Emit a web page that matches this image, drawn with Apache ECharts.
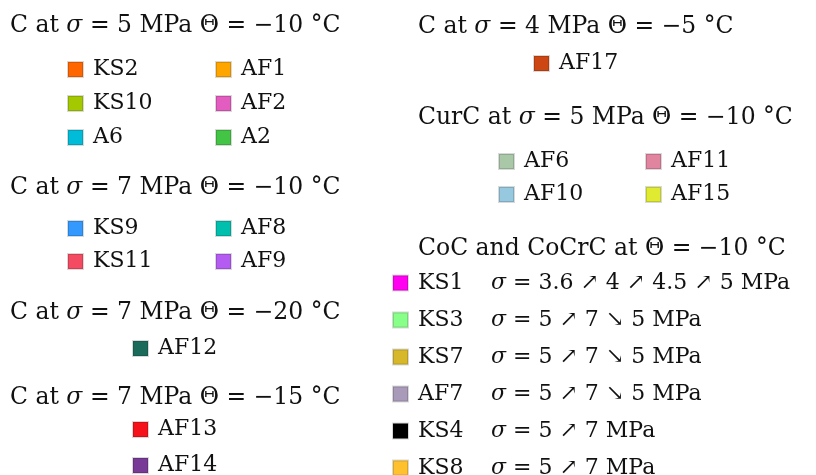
<!DOCTYPE html>
<html><head><meta charset="utf-8">
<script src="https://cdn.jsdelivr.net/npm/echarts@6/dist/echarts.min.js"></script>
<style>html,body{margin:0;padding:0;background:#fff}#c{width:816px;height:475px}</style>
</head><body><div id="c"></div>
<script>
// ---- data ----
const groupTitles = [
  'C at {i|σ} = 5 MPa Θ = −10 °C',
  'C at {i|σ} = 7 MPa Θ = −10 °C',
  'C at {i|σ} = 7 MPa Θ = −20 °C',
  'C at {i|σ} = 7 MPa Θ = −15 °C',
  'C at {i|σ} = 4 MPa Θ = −5 °C',
  'CurC at {i|σ} = 5 MPa Θ = −10 °C',
  'CoC and CoCrC at Θ = −10 °C'
];
const group1Left = ['KS2', 'KS10', 'A6'];
const group1Right = ['AF1', 'AF2', 'A2'];
const group2Left = ['KS9', 'KS11'];
const group2Right = ['AF8', 'AF9'];
const group3 = ['AF12'];
const group4 = ['AF13', 'AF14'];
const group5 = ['AF17'];
const group6Left = ['AF6', 'AF10'];
const group6Right = ['AF11', 'AF15'];
const group7 = ['KS1', 'KS3', 'KS7', 'AF7', 'KS4', 'KS8'];
const group7Paths = [
  ' = 3.6 ↗ 4 ↗ 4.5 ↗ 5 MPa',
  ' = 5 ↗ 7 ↘ 5 MPa',
  ' = 5 ↗ 7 ↘ 5 MPa',
  ' = 5 ↗ 7 ↘ 5 MPa',
  ' = 5 ↗ 7 MPa',
  ' = 5 ↗ 7 MPa'
];
const specimenColors = {
  KS2: '#ff6600', AF1: '#ffa500', KS10: '#a5c900', AF2: '#e35cbf', A6: '#00bcd8', A2: '#44c444',
  KS9: '#3399ff', AF8: '#00bfad', KS11: '#f44a62', AF9: '#b45cf2',
  AF12: '#1b6b5b', AF13: '#f5121a', AF14: '#773a96', AF17: '#cc4713',
  AF6: '#a8c8a8', AF11: '#e184a0', AF10: '#96c8e0', AF15: '#e0ea30',
  KS1: '#ff00f0', KS3: '#88ff88', KS7: '#d6b82a', AF7: '#a89ab8', KS4: '#000000', KS8: '#ffc22e'
};

// ---- layout ----
const FONT = '"DejaVu Serif", serif';
const ITEM_FS = 22, TITLE_FS = 23.5;
const titlePos = [[10, 13], [10, 175], [10, 300], [10, 385], [418, 14], [418, 105], [418, 236]];
// [names, left x, first row centre y, row spacing, rich?]
const columns = [
  [group1Left, 67, 68, 34], [group1Right, 215, 68, 34],
  [group2Left, 67, 227, 33], [group2Right, 215, 227, 33],
  [group3, 132, 347, 34], [group4, 132, 428, 36],
  [group5, 533, 62, 34],
  [group6Left, 498, 160, 33], [group6Right, 645, 160, 33],
  [group7, 392, 282, 37, true]
];
const allNames = [].concat(...columns.map(c => c[0]));
const pathByName = {};
group7.forEach((n, i) => { pathByName[n] = group7Paths[i]; });

const baseText = { fontFamily: FONT, fontSize: ITEM_FS, color: '#111' };
const legends = [];
columns.forEach(([names, x, y0, gap, rich]) => {
  names.forEach((n, k) => {
    const lg = {
      data: [n], left: x, top: y0 + k * gap - (rich ? 10 : 9.5), orient: 'vertical',
      padding: 0, itemWidth: 15, itemHeight: 15, icon: 'rect', selectedMode: false,
      textStyle: Object.assign({ padding: [0, 0, 0, 5] }, baseText)
    };
    if (rich) {
      lg.formatter = nm => '{n|' + nm + '}{s|σ}{p|' + pathByName[nm] + '}';
      lg.textStyle.rich = {
        n: Object.assign({ width: 73 }, baseText),
        s: Object.assign({ fontStyle: 'italic' }, baseText),
        p: Object.assign({}, baseText)
      };
    }
    legends.push(lg);
  });
});

const option = {
  animation: false,
  title: groupTitles.map((t, i) => ({
    text: t, left: titlePos[i][0], top: titlePos[i][1], padding: 0,
    textStyle: {
      fontFamily: FONT, fontSize: TITLE_FS, fontWeight: 'normal', color: '#111', lineHeight: 26,
      rich: { i: { fontFamily: FONT, fontSize: TITLE_FS, fontStyle: 'italic', color: '#111' } }
    }
  })),
  legend: legends,
  grid: { left: -10, top: -10, width: 1, height: 1, show: false },
  xAxis: { type: 'category', show: false, data: [] },
  yAxis: { type: 'value', show: false },
  series: allNames.map(n => ({
    type: 'bar', name: n, data: [],
    itemStyle: { color: specimenColors[n], borderColor: 'rgba(0,0,0,0.15)', borderWidth: 1 }
  }))
};
const chart = echarts.init(document.getElementById('c'), null, { renderer: 'canvas' });
chart.setOption(option);
</script></body></html>
